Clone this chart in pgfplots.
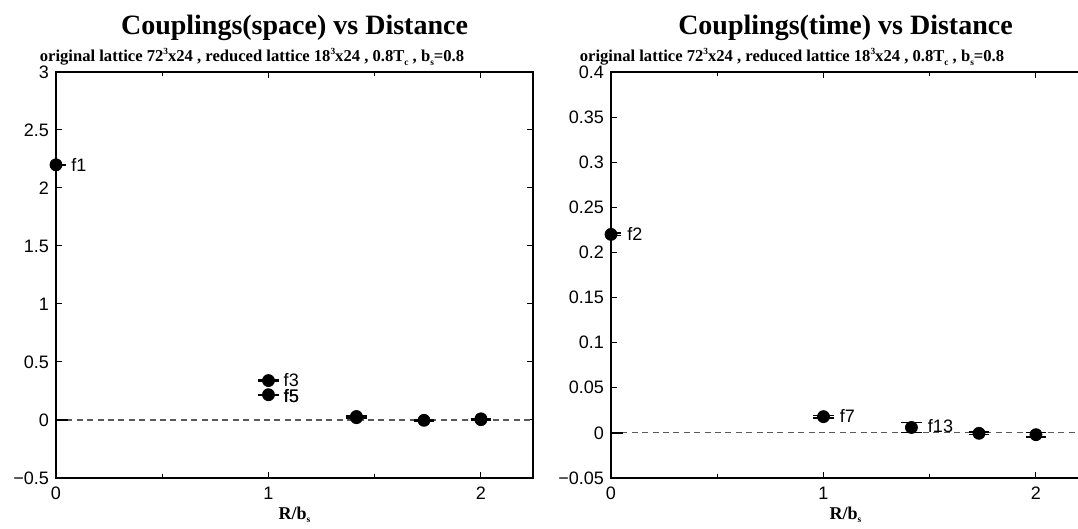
\documentclass[border=0pt]{standalone}
\usepackage{pgfplots}
\pgfplotsset{compat=1.18}
\usepackage{fontspec}
\setmainfont{Liberation Serif}
\newfontfamily\arial{Liberation Sans}
\newcommand{\sub}[1]{\raisebox{-0.4ex}{\fontsize{4.7}{4.7}\selectfont #1}}
\newcommand{\sups}[1]{\raisebox{0.95ex}{\fontsize{4.7}{4.7}\selectfont #1}}
\pgfplotsset{
  myax/.style={
    scale only axis,
    width=238.5pt, height=203pt,
    anchor=south west,
    xmin=0, xmax=2.245,
    xtick={0,1,2}, minor xtick={0.5,1.5},
    xticklabels={0,1,2},
    tick align=inside,
    major tick length=3pt, minor tick length=1.8pt,
    every tick/.style={black, line width=0.5pt},
    axis line style={black, line width=0.6pt},
    tick label style={font=\arial\fontsize{9}{10}\selectfont},
    /pgf/number format/assume math mode=true,
    xticklabel style={yshift=-1pt},
    clip=true,
  },
  pts/.style={only marks, mark=*, mark size=3pt, black,
    error bars/.cd, y dir=both, y explicit,
    error mark=|, error bar style={black, line width=0.6pt},
    error mark options={black, mark size=5.2pt, line width=0.7pt}},
}
\begin{document}
\begin{tikzpicture}[x=1pt,y=1pt]
\useasboundingbox (0,0) rectangle (539,264.5);
% ---------------- left
\begin{axis}[myax, at={(28pt,25.5pt)},
  ymin=-0.5, ymax=3,
  ytick={-0.5,0,0.5,1,1.5,2,2.5,3},
  yticklabels={−0.5,0,0.5,1,1.5,2,2.5,3},
]
\addplot[dash pattern=on 3pt off 2.2pt, gray!70!black, line width=0.6pt] coordinates {(0,0) (2.245,0)};
\addplot[black, line width=1pt] coordinates {(0,0) (0.055,0)};
\addplot[pts] coordinates {
 (0,2.2) +- (0,0.004)
 (1,0.34) +- (0,0.004)
 (1,0.218) +- (0,0.004)
 (1.414,0.03) +- (0,0.006)
 (1.414,0.02) +- (0,0.004)
 (1.732,-0.003) +- (0,0.004)
 (2,0.01) +- (0,0.004)
 (2,0.003) +- (0,0.004)
};
\node[anchor=west, font=\arial\fontsize{9}{10}\selectfont, inner sep=0pt] at (axis cs:0.07,2.2) {f1};
\node[anchor=west, font=\arial\fontsize{9}{10}\selectfont, inner sep=0pt] at (axis cs:1.07,0.34) {f3};
\node[anchor=west, font=\arial\fontsize{9}{10}\selectfont, inner sep=0pt] at (axis cs:1.07,0.21) {f5};
\node[anchor=west, font=\arial\fontsize{9}{10}\selectfont, inner sep=0pt] at (axis cs:1.0718,0.21) {f5};
\end{axis}
% ---------------- right
\begin{axis}[myax, at={(305.5pt,25.5pt)},
  ymin=-0.05, ymax=0.4,
  ytick={-0.05,0,0.05,0.1,0.15,0.2,0.25,0.3,0.35,0.4},
  yticklabels={−0.05,0,0.05,0.1,0.15,0.2,0.25,0.3,0.35,0.4},
]
\addplot[dash pattern=on 3pt off 2.2pt, gray!70!black, line width=0.6pt] coordinates {(0,0) (2.245,0)};
\addplot[black, line width=1pt] coordinates {(0,0) (0.055,0)};
\addplot[pts] coordinates {
 (0,0.22) +- (0,0.0015)
 (1,0.018) +- (0,0.0015)
 (1.414,0.006) +- (0,0.0055)
 (1.732,-0.0005) +- (0,0.0015)
 (2,-0.002) +- (0,0.0025)
};
\node[anchor=west, font=\arial\fontsize{9}{10}\selectfont, inner sep=0pt] at (axis cs:0.075,0.22) {f2};
\node[anchor=west, font=\arial\fontsize{9}{10}\selectfont, inner sep=0pt] at (axis cs:1.075,0.019) {f7};
\node[anchor=west, font=\arial\fontsize{9}{10}\selectfont, inner sep=0pt] at (axis cs:1.49,0.007) {f13};
\end{axis}
% ---------------- titles
\node[font=\bfseries\fontsize{14}{15}\selectfont, anchor=base] at (147.25,247) {Couplings(space) vs Distance};
\node[font=\bfseries\fontsize{8.3}{9}\selectfont, anchor=base] at (126,233.5) {original lattice 72\sups{3}x24 , reduced lattice 18\sups{3}x24 , 0.8T\sub{c} , b\sub{s}=0.8};
\node[font=\bfseries\fontsize{9}{10}\selectfont] at (147.25,7) {R/b\sub{s}};
\node[font=\bfseries\fontsize{14}{15}\selectfont, anchor=base] at (422.75,247) {Couplings(time) vs Distance};
\node[font=\bfseries\fontsize{8.3}{9}\selectfont, anchor=base] at (396,233.5) {original lattice 72\sups{3}x24 , reduced lattice 18\sups{3}x24 , 0.8T\sub{c} , b\sub{s}=0.8};
\node[font=\bfseries\fontsize{9}{10}\selectfont] at (422.75,7) {R/b\sub{s}};
\end{tikzpicture}
\end{document}
